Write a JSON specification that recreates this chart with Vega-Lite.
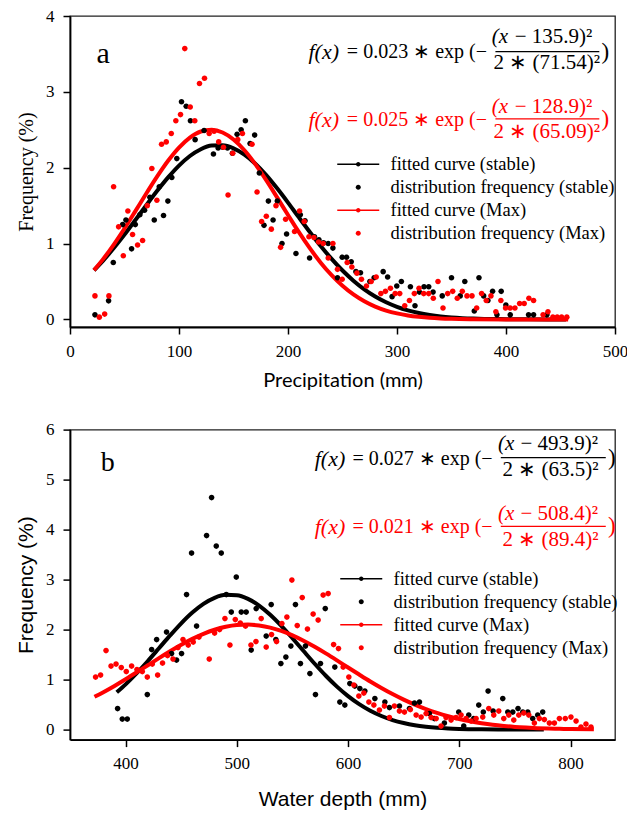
{
  "$schema": "https://vega.github.io/schema/vega-lite/v6.json",
  "padding": {"left": 14, "top": 6, "right": 0, "bottom": 0},
  "background": "white",
  "datasets": {
    "topfit": [
      {"x":22,"y":0.648,"s":"fitted curve (stable)"},{"x":30,"y":0.769,"s":"fitted curve (stable)"},{"x":40,"y":0.937,"s":"fitted curve (stable)"},{"x":50,"y":1.118,"s":"fitted curve (stable)"},{"x":60,"y":1.31,"s":"fitted curve (stable)"},{"x":70,"y":1.505,"s":"fitted curve (stable)"},{"x":80,"y":1.695,"s":"fitted curve (stable)"},{"x":90,"y":1.872,"s":"fitted curve (stable)"},{"x":100,"y":2.028,"s":"fitted curve (stable)"},{"x":110,"y":2.154,"s":"fitted curve (stable)"},{"x":120,"y":2.244,"s":"fitted curve (stable)"},{"x":130,"y":2.292,"s":"fitted curve (stable)"},{"x":140,"y":2.296,"s":"fitted curve (stable)"},{"x":150,"y":2.256,"s":"fitted curve (stable)"},{"x":160,"y":2.173,"s":"fitted curve (stable)"},{"x":170,"y":2.053,"s":"fitted curve (stable)"},{"x":180,"y":1.902,"s":"fitted curve (stable)"},{"x":190,"y":1.728,"s":"fitted curve (stable)"},{"x":200,"y":1.54,"s":"fitted curve (stable)"},{"x":210,"y":1.345,"s":"fitted curve (stable)"},{"x":220,"y":1.153,"s":"fitted curve (stable)"},{"x":230,"y":0.968,"s":"fitted curve (stable)"},{"x":240,"y":0.798,"s":"fitted curve (stable)"},{"x":250,"y":0.645,"s":"fitted curve (stable)"},{"x":260,"y":0.511,"s":"fitted curve (stable)"},{"x":270,"y":0.397,"s":"fitted curve (stable)"},{"x":280,"y":0.302,"s":"fitted curve (stable)"},{"x":290,"y":0.226,"s":"fitted curve (stable)"},{"x":300,"y":0.166,"s":"fitted curve (stable)"},{"x":310,"y":0.119,"s":"fitted curve (stable)"},{"x":320,"y":0.084,"s":"fitted curve (stable)"},{"x":330,"y":0.058,"s":"fitted curve (stable)"},{"x":340,"y":0.039,"s":"fitted curve (stable)"},{"x":350,"y":0.026,"s":"fitted curve (stable)"},{"x":360,"y":0.017,"s":"fitted curve (stable)"},{"x":370,"y":0.011,"s":"fitted curve (stable)"},{"x":380,"y":0.007,"s":"fitted curve (stable)"},{"x":400,"y":0.003,"s":"fitted curve (stable)"},{"x":420,"y":0.001,"s":"fitted curve (stable)"},{"x":455,"y":0.0,"s":"fitted curve (stable)"},
      {"x":22,"y":0.649,"s":"fitted curve (Max)"},{"x":30,"y":0.788,"s":"fitted curve (Max)"},{"x":40,"y":0.984,"s":"fitted curve (Max)"},{"x":50,"y":1.199,"s":"fitted curve (Max)"},{"x":60,"y":1.428,"s":"fitted curve (Max)"},{"x":70,"y":1.66,"s":"fitted curve (Max)"},{"x":80,"y":1.885,"s":"fitted curve (Max)"},{"x":90,"y":2.091,"s":"fitted curve (Max)"},{"x":100,"y":2.265,"s":"fitted curve (Max)"},{"x":110,"y":2.397,"s":"fitted curve (Max)"},{"x":120,"y":2.477,"s":"fitted curve (Max)"},{"x":130,"y":2.5,"s":"fitted curve (Max)"},{"x":140,"y":2.464,"s":"fitted curve (Max)"},{"x":150,"y":2.372,"s":"fitted curve (Max)"},{"x":160,"y":2.23,"s":"fitted curve (Max)"},{"x":170,"y":2.048,"s":"fitted curve (Max)"},{"x":180,"y":1.837,"s":"fitted curve (Max)"},{"x":190,"y":1.609,"s":"fitted curve (Max)"},{"x":200,"y":1.377,"s":"fitted curve (Max)"},{"x":210,"y":1.15,"s":"fitted curve (Max)"},{"x":220,"y":0.939,"s":"fitted curve (Max)"},{"x":230,"y":0.748,"s":"fitted curve (Max)"},{"x":240,"y":0.583,"s":"fitted curve (Max)"},{"x":250,"y":0.443,"s":"fitted curve (Max)"},{"x":260,"y":0.329,"s":"fitted curve (Max)"},{"x":270,"y":0.239,"s":"fitted curve (Max)"},{"x":280,"y":0.169,"s":"fitted curve (Max)"},{"x":290,"y":0.117,"s":"fitted curve (Max)"},{"x":300,"y":0.079,"s":"fitted curve (Max)"},{"x":310,"y":0.052,"s":"fitted curve (Max)"},{"x":320,"y":0.034,"s":"fitted curve (Max)"},{"x":330,"y":0.021,"s":"fitted curve (Max)"},{"x":340,"y":0.013,"s":"fitted curve (Max)"},{"x":350,"y":0.008,"s":"fitted curve (Max)"},{"x":370,"y":0.003,"s":"fitted curve (Max)"},{"x":400,"y":0.0,"s":"fitted curve (Max)"},{"x":457,"y":0.0,"s":"fitted curve (Max)"}
    ],
    "toppts": [
      {"x":22.9,"y":0.06,"s":"distribution frequency (stable)"},{"x":35.4,"y":0.245,"s":"distribution frequency (stable)"},{"x":39.7,"y":0.75,"s":"distribution frequency (stable)"},{"x":48.3,"y":1.25,"s":"distribution frequency (stable)"},{"x":51.3,"y":1.31,"s":"distribution frequency (stable)"},{"x":56.5,"y":0.93,"s":"distribution frequency (stable)"},{"x":59.9,"y":1.25,"s":"distribution frequency (stable)"},{"x":64.1,"y":1.38,"s":"distribution frequency (stable)"},{"x":68.4,"y":1.44,"s":"distribution frequency (stable)"},{"x":73.3,"y":1.61,"s":"distribution frequency (stable)"},{"x":77.3,"y":1.31,"s":"distribution frequency (stable)"},{"x":81.9,"y":1.75,"s":"distribution frequency (stable)"},{"x":85.8,"y":1.37,"s":"distribution frequency (stable)"},{"x":89.8,"y":1.56,"s":"distribution frequency (stable)"},{"x":93.4,"y":1.87,"s":"distribution frequency (stable)"},{"x":98,"y":2.12,"s":"distribution frequency (stable)"},{"x":102.3,"y":2.87,"s":"distribution frequency (stable)"},{"x":106.6,"y":2.81,"s":"distribution frequency (stable)"},{"x":110.5,"y":2.62,"s":"distribution frequency (stable)"},{"x":114.8,"y":2.37,"s":"distribution frequency (stable)"},{"x":123,"y":2.49,"s":"distribution frequency (stable)"},{"x":131.6,"y":2.18,"s":"distribution frequency (stable)"},{"x":135.9,"y":2.26,"s":"distribution frequency (stable)"},{"x":140.1,"y":2.27,"s":"distribution frequency (stable)"},{"x":144.5,"y":2.26,"s":"distribution frequency (stable)"},{"x":149,"y":2.19,"s":"distribution frequency (stable)"},{"x":153.3,"y":2.44,"s":"distribution frequency (stable)"},{"x":157,"y":2.5,"s":"distribution frequency (stable)"},{"x":160.9,"y":2.62,"s":"distribution frequency (stable)"},{"x":165.2,"y":2.32,"s":"distribution frequency (stable)"},{"x":169.4,"y":2.43,"s":"distribution frequency (stable)"},{"x":173.7,"y":1.93,"s":"distribution frequency (stable)"},{"x":178,"y":1.24,"s":"distribution frequency (stable)"},{"x":182,"y":1.56,"s":"distribution frequency (stable)"},{"x":186.3,"y":1.31,"s":"distribution frequency (stable)"},{"x":190.2,"y":1.56,"s":"distribution frequency (stable)"},{"x":194.5,"y":1.0,"s":"distribution frequency (stable)"},{"x":198.7,"y":1.125,"s":"distribution frequency (stable)"},{"x":207.3,"y":0.87,"s":"distribution frequency (stable)"},{"x":211.3,"y":1.38,"s":"distribution frequency (stable)"},{"x":215.6,"y":1.3,"s":"distribution frequency (stable)"},{"x":219.8,"y":0.81,"s":"distribution frequency (stable)"},{"x":224.3,"y":1.09,"s":"distribution frequency (stable)"},{"x":228.4,"y":1.05,"s":"distribution frequency (stable)"},{"x":232.6,"y":1.01,"s":"distribution frequency (stable)"},{"x":236.9,"y":1.0,"s":"distribution frequency (stable)"},{"x":241.2,"y":0.94,"s":"distribution frequency (stable)"},{"x":245.4,"y":0.55,"s":"distribution frequency (stable)"},{"x":249.7,"y":0.82,"s":"distribution frequency (stable)"},{"x":253.7,"y":0.82,"s":"distribution frequency (stable)"},{"x":258,"y":0.76,"s":"distribution frequency (stable)"},{"x":262.3,"y":0.63,"s":"distribution frequency (stable)"},{"x":266.5,"y":0.615,"s":"distribution frequency (stable)"},{"x":275.1,"y":0.5,"s":"distribution frequency (stable)"},{"x":279,"y":0.55,"s":"distribution frequency (stable)"},{"x":287.3,"y":0.63,"s":"distribution frequency (stable)"},{"x":291.4,"y":0.56,"s":"distribution frequency (stable)"},{"x":295.5,"y":0.3,"s":"distribution frequency (stable)"},{"x":299.8,"y":0.44,"s":"distribution frequency (stable)"},{"x":304,"y":0.5,"s":"distribution frequency (stable)"},{"x":312.3,"y":0.43,"s":"distribution frequency (stable)"},{"x":316.5,"y":0.18,"s":"distribution frequency (stable)"},{"x":320.5,"y":0.36,"s":"distribution frequency (stable)"},{"x":324.8,"y":0.43,"s":"distribution frequency (stable)"},{"x":329.1,"y":0.43,"s":"distribution frequency (stable)"},{"x":333.1,"y":0.36,"s":"distribution frequency (stable)"},{"x":341.5,"y":0.31,"s":"distribution frequency (stable)"},{"x":350,"y":0.55,"s":"distribution frequency (stable)"},{"x":358,"y":0.31,"s":"distribution frequency (stable)"},{"x":362.2,"y":0.5,"s":"distribution frequency (stable)"},{"x":370.9,"y":0.11,"s":"distribution frequency (stable)"},{"x":375.2,"y":0.55,"s":"distribution frequency (stable)"},{"x":379.5,"y":0.31,"s":"distribution frequency (stable)"},{"x":383.4,"y":0.25,"s":"distribution frequency (stable)"},{"x":387.7,"y":0.37,"s":"distribution frequency (stable)"},{"x":391.7,"y":0.06,"s":"distribution frequency (stable)"},{"x":395.6,"y":0.37,"s":"distribution frequency (stable)"},{"x":399.9,"y":0.19,"s":"distribution frequency (stable)"},{"x":403.9,"y":0.06,"s":"distribution frequency (stable)"},{"x":420.7,"y":0.06,"s":"distribution frequency (stable)"},{"x":425.3,"y":0.06,"s":"distribution frequency (stable)"},{"x":437.5,"y":0.06,"s":"distribution frequency (stable)"},
      {"x":22.9,"y":0.31,"s":"distribution frequency (Max)"},{"x":26.9,"y":0.03,"s":"distribution frequency (Max)"},{"x":31.8,"y":0.07,"s":"distribution frequency (Max)"},{"x":35.7,"y":0.31,"s":"distribution frequency (Max)"},{"x":40,"y":1.75,"s":"distribution frequency (Max)"},{"x":44.6,"y":1.22,"s":"distribution frequency (Max)"},{"x":48.9,"y":0.84,"s":"distribution frequency (Max)"},{"x":53.1,"y":1.43,"s":"distribution frequency (Max)"},{"x":57.4,"y":1.12,"s":"distribution frequency (Max)"},{"x":62,"y":0.98,"s":"distribution frequency (Max)"},{"x":66.6,"y":1.04,"s":"distribution frequency (Max)"},{"x":70.9,"y":1.5,"s":"distribution frequency (Max)"},{"x":75.1,"y":1.99,"s":"distribution frequency (Max)"},{"x":79.7,"y":1.57,"s":"distribution frequency (Max)"},{"x":84,"y":2.31,"s":"distribution frequency (Max)"},{"x":88.3,"y":2.34,"s":"distribution frequency (Max)"},{"x":92.9,"y":2.45,"s":"distribution frequency (Max)"},{"x":97.1,"y":2.62,"s":"distribution frequency (Max)"},{"x":101.4,"y":2.7,"s":"distribution frequency (Max)"},{"x":105.3,"y":3.57,"s":"distribution frequency (Max)"},{"x":110.3,"y":2.8,"s":"distribution frequency (Max)"},{"x":114.5,"y":2.62,"s":"distribution frequency (Max)"},{"x":118.8,"y":3.11,"s":"distribution frequency (Max)"},{"x":123.4,"y":3.18,"s":"distribution frequency (Max)"},{"x":127.7,"y":2.45,"s":"distribution frequency (Max)"},{"x":132.2,"y":2.48,"s":"distribution frequency (Max)"},{"x":136.4,"y":2.34,"s":"distribution frequency (Max)"},{"x":140.8,"y":2.27,"s":"distribution frequency (Max)"},{"x":145,"y":1.64,"s":"distribution frequency (Max)"},{"x":149.3,"y":2.19,"s":"distribution frequency (Max)"},{"x":153.9,"y":2.37,"s":"distribution frequency (Max)"},{"x":158.2,"y":2.45,"s":"distribution frequency (Max)"},{"x":167,"y":2.31,"s":"distribution frequency (Max)"},{"x":171.6,"y":1.68,"s":"distribution frequency (Max)"},{"x":175.8,"y":1.29,"s":"distribution frequency (Max)"},{"x":180.1,"y":1.36,"s":"distribution frequency (Max)"},{"x":184.7,"y":1.19,"s":"distribution frequency (Max)"},{"x":189,"y":1.5,"s":"distribution frequency (Max)"},{"x":193.2,"y":0.95,"s":"distribution frequency (Max)"},{"x":197.8,"y":1.32,"s":"distribution frequency (Max)"},{"x":206,"y":1.16,"s":"distribution frequency (Max)"},{"x":210.6,"y":1.43,"s":"distribution frequency (Max)"},{"x":214.9,"y":1.29,"s":"distribution frequency (Max)"},{"x":219.2,"y":1.09,"s":"distribution frequency (Max)"},{"x":223.8,"y":1.08,"s":"distribution frequency (Max)"},{"x":228,"y":1.02,"s":"distribution frequency (Max)"},{"x":232.3,"y":1.0,"s":"distribution frequency (Max)"},{"x":236.9,"y":0.81,"s":"distribution frequency (Max)"},{"x":241.2,"y":1.0,"s":"distribution frequency (Max)"},{"x":245.4,"y":0.66,"s":"distribution frequency (Max)"},{"x":249.7,"y":0.53,"s":"distribution frequency (Max)"},{"x":254.3,"y":0.75,"s":"distribution frequency (Max)"},{"x":258.6,"y":0.69,"s":"distribution frequency (Max)"},{"x":263.2,"y":0.61,"s":"distribution frequency (Max)"},{"x":267.4,"y":0.53,"s":"distribution frequency (Max)"},{"x":272,"y":0.44,"s":"distribution frequency (Max)"},{"x":276.3,"y":0.5,"s":"distribution frequency (Max)"},{"x":280.9,"y":0.56,"s":"distribution frequency (Max)"},{"x":285.2,"y":0.34,"s":"distribution frequency (Max)"},{"x":289.4,"y":0.37,"s":"distribution frequency (Max)"},{"x":294,"y":0.41,"s":"distribution frequency (Max)"},{"x":298.3,"y":0.34,"s":"distribution frequency (Max)"},{"x":302.5,"y":0.34,"s":"distribution frequency (Max)"},{"x":307.1,"y":0.18,"s":"distribution frequency (Max)"},{"x":311.4,"y":0.25,"s":"distribution frequency (Max)"},{"x":315.9,"y":0.34,"s":"distribution frequency (Max)"},{"x":320.2,"y":0.41,"s":"distribution frequency (Max)"},{"x":324.5,"y":0.34,"s":"distribution frequency (Max)"},{"x":329.1,"y":0.34,"s":"distribution frequency (Max)"},{"x":333.3,"y":0.28,"s":"distribution frequency (Max)"},{"x":337.6,"y":0.5,"s":"distribution frequency (Max)"},{"x":342.2,"y":0.15,"s":"distribution frequency (Max)"},{"x":346.5,"y":0.34,"s":"distribution frequency (Max)"},{"x":351.1,"y":0.37,"s":"distribution frequency (Max)"},{"x":355.3,"y":0.28,"s":"distribution frequency (Max)"},{"x":359.9,"y":0.37,"s":"distribution frequency (Max)"},{"x":364.2,"y":0.31,"s":"distribution frequency (Max)"},{"x":368.8,"y":0.31,"s":"distribution frequency (Max)"},{"x":373.1,"y":0.15,"s":"distribution frequency (Max)"},{"x":377.6,"y":0.34,"s":"distribution frequency (Max)"},{"x":381.9,"y":0.25,"s":"distribution frequency (Max)"},{"x":386.2,"y":0.31,"s":"distribution frequency (Max)"},{"x":390.7,"y":0.1,"s":"distribution frequency (Max)"},{"x":395.3,"y":0.25,"s":"distribution frequency (Max)"},{"x":399.6,"y":0.15,"s":"distribution frequency (Max)"},{"x":403.9,"y":0.15,"s":"distribution frequency (Max)"},{"x":408.2,"y":0.15,"s":"distribution frequency (Max)"},{"x":412.5,"y":0.21,"s":"distribution frequency (Max)"},{"x":416.7,"y":0.21,"s":"distribution frequency (Max)"},{"x":421,"y":0.28,"s":"distribution frequency (Max)"},{"x":425.3,"y":0.25,"s":"distribution frequency (Max)"},{"x":434,"y":0.06,"s":"distribution frequency (Max)"},{"x":438.5,"y":0.1,"s":"distribution frequency (Max)"},{"x":443,"y":0.03,"s":"distribution frequency (Max)"},{"x":447,"y":0.03,"s":"distribution frequency (Max)"},{"x":451,"y":0.03,"s":"distribution frequency (Max)"},{"x":455.8,"y":0.03,"s":"distribution frequency (Max)"}
    ],
    "botfit": [
      {"x":392,"y":0.745,"s":"fitted curve (stable)"},{"x":400,"y":0.905,"s":"fitted curve (stable)"},{"x":410,"y":1.128,"s":"fitted curve (stable)"},{"x":420,"y":1.372,"s":"fitted curve (stable)"},{"x":430,"y":1.627,"s":"fitted curve (stable)"},{"x":440,"y":1.883,"s":"fitted curve (stable)"},{"x":450,"y":2.126,"s":"fitted curve (stable)"},{"x":460,"y":2.341,"s":"fitted curve (stable)"},{"x":470,"y":2.515,"s":"fitted curve (stable)"},{"x":480,"y":2.636,"s":"fitted curve (stable)"},{"x":490,"y":2.695,"s":"fitted curve (stable)"},{"x":500,"y":2.688,"s":"fitted curve (stable)"},{"x":510,"y":2.615,"s":"fitted curve (stable)"},{"x":520,"y":2.481,"s":"fitted curve (stable)"},{"x":530,"y":2.297,"s":"fitted curve (stable)"},{"x":540,"y":2.075,"s":"fitted curve (stable)"},{"x":550,"y":1.828,"s":"fitted curve (stable)"},{"x":560,"y":1.571,"s":"fitted curve (stable)"},{"x":570,"y":1.317,"s":"fitted curve (stable)"},{"x":580,"y":1.077,"s":"fitted curve (stable)"},{"x":590,"y":0.859,"s":"fitted curve (stable)"},{"x":600,"y":0.669,"s":"fitted curve (stable)"},{"x":610,"y":0.508,"s":"fitted curve (stable)"},{"x":620,"y":0.376,"s":"fitted curve (stable)"},{"x":630,"y":0.272,"s":"fitted curve (stable)"},{"x":640,"y":0.191,"s":"fitted curve (stable)"},{"x":650,"y":0.132,"s":"fitted curve (stable)"},{"x":660,"y":0.088,"s":"fitted curve (stable)"},{"x":670,"y":0.058,"s":"fitted curve (stable)"},{"x":680,"y":0.037,"s":"fitted curve (stable)"},{"x":690,"y":0.023,"s":"fitted curve (stable)"},{"x":700,"y":0.014,"s":"fitted curve (stable)"},{"x":720,"y":0.005,"s":"fitted curve (stable)"},{"x":740,"y":0.002,"s":"fitted curve (stable)"},{"x":776,"y":0.0,"s":"fitted curve (stable)"},
      {"x":372,"y":0.656,"s":"fitted curve (Max)"},{"x":380,"y":0.749,"s":"fitted curve (Max)"},{"x":390,"y":0.874,"s":"fitted curve (Max)"},{"x":400,"y":1.007,"s":"fitted curve (Max)"},{"x":410,"y":1.146,"s":"fitted curve (Max)"},{"x":420,"y":1.288,"s":"fitted curve (Max)"},{"x":430,"y":1.43,"s":"fitted curve (Max)"},{"x":440,"y":1.567,"s":"fitted curve (Max)"},{"x":450,"y":1.696,"s":"fitted curve (Max)"},{"x":460,"y":1.814,"s":"fitted curve (Max)"},{"x":470,"y":1.915,"s":"fitted curve (Max)"},{"x":480,"y":1.997,"s":"fitted curve (Max)"},{"x":490,"y":2.056,"s":"fitted curve (Max)"},{"x":500,"y":2.091,"s":"fitted curve (Max)"},{"x":510,"y":2.1,"s":"fitted curve (Max)"},{"x":520,"y":2.082,"s":"fitted curve (Max)"},{"x":530,"y":2.04,"s":"fitted curve (Max)"},{"x":540,"y":1.973,"s":"fitted curve (Max)"},{"x":550,"y":1.885,"s":"fitted curve (Max)"},{"x":560,"y":1.778,"s":"fitted curve (Max)"},{"x":570,"y":1.656,"s":"fitted curve (Max)"},{"x":580,"y":1.524,"s":"fitted curve (Max)"},{"x":590,"y":1.385,"s":"fitted curve (Max)"},{"x":600,"y":1.242,"s":"fitted curve (Max)"},{"x":610,"y":1.101,"s":"fitted curve (Max)"},{"x":620,"y":0.963,"s":"fitted curve (Max)"},{"x":630,"y":0.833,"s":"fitted curve (Max)"},{"x":640,"y":0.711,"s":"fitted curve (Max)"},{"x":650,"y":0.599,"s":"fitted curve (Max)"},{"x":660,"y":0.499,"s":"fitted curve (Max)"},{"x":670,"y":0.41,"s":"fitted curve (Max)"},{"x":680,"y":0.333,"s":"fitted curve (Max)"},{"x":690,"y":0.267,"s":"fitted curve (Max)"},{"x":700,"y":0.211,"s":"fitted curve (Max)"},{"x":710,"y":0.165,"s":"fitted curve (Max)"},{"x":720,"y":0.128,"s":"fitted curve (Max)"},{"x":730,"y":0.097,"s":"fitted curve (Max)"},{"x":740,"y":0.073,"s":"fitted curve (Max)"},{"x":750,"y":0.054,"s":"fitted curve (Max)"},{"x":760,"y":0.04,"s":"fitted curve (Max)"},{"x":770,"y":0.029,"s":"fitted curve (Max)"},{"x":780,"y":0.021,"s":"fitted curve (Max)"},{"x":790,"y":0.015,"s":"fitted curve (Max)"},{"x":800,"y":0.01,"s":"fitted curve (Max)"},{"x":821,"y":0.005,"s":"fitted curve (Max)"}
    ],
    "botpts": [
      {"x":392.8,"y":0.42,"s":"distribution frequency (stable)"},{"x":397,"y":0.21,"s":"distribution frequency (stable)"},{"x":401.5,"y":0.21,"s":"distribution frequency (stable)"},{"x":419.5,"y":0.7,"s":"distribution frequency (stable)"},{"x":423.4,"y":1.6,"s":"distribution frequency (stable)"},{"x":427.9,"y":1.8,"s":"distribution frequency (stable)"},{"x":436.8,"y":1.95,"s":"distribution frequency (stable)"},{"x":441.3,"y":1.52,"s":"distribution frequency (stable)"},{"x":445.8,"y":1.39,"s":"distribution frequency (stable)"},{"x":450.3,"y":1.52,"s":"distribution frequency (stable)"},{"x":454.8,"y":2.7,"s":"distribution frequency (stable)"},{"x":459.3,"y":3.53,"s":"distribution frequency (stable)"},{"x":463.8,"y":2.07,"s":"distribution frequency (stable)"},{"x":472.8,"y":3.88,"s":"distribution frequency (stable)"},{"x":477.3,"y":4.64,"s":"distribution frequency (stable)"},{"x":481.5,"y":3.67,"s":"distribution frequency (stable)"},{"x":486,"y":3.53,"s":"distribution frequency (stable)"},{"x":490.5,"y":2.7,"s":"distribution frequency (stable)"},{"x":495,"y":2.35,"s":"distribution frequency (stable)"},{"x":499.5,"y":3.05,"s":"distribution frequency (stable)"},{"x":504,"y":2.35,"s":"distribution frequency (stable)"},{"x":508.4,"y":2.35,"s":"distribution frequency (stable)"},{"x":512.9,"y":1.59,"s":"distribution frequency (stable)"},{"x":517.4,"y":2.42,"s":"distribution frequency (stable)"},{"x":526.4,"y":1.87,"s":"distribution frequency (stable)"},{"x":530.9,"y":2.5,"s":"distribution frequency (stable)"},{"x":535.1,"y":1.8,"s":"distribution frequency (stable)"},{"x":539.6,"y":1.32,"s":"distribution frequency (stable)"},{"x":544.1,"y":1.45,"s":"distribution frequency (stable)"},{"x":548.6,"y":1.67,"s":"distribution frequency (stable)"},{"x":552.7,"y":2.5,"s":"distribution frequency (stable)"},{"x":557.2,"y":1.32,"s":"distribution frequency (stable)"},{"x":561.7,"y":1.67,"s":"distribution frequency (stable)"},{"x":565.7,"y":1.12,"s":"distribution frequency (stable)"},{"x":570.7,"y":0.7,"s":"distribution frequency (stable)"},{"x":575.2,"y":1.32,"s":"distribution frequency (stable)"},{"x":579.5,"y":2.42,"s":"distribution frequency (stable)"},{"x":588.1,"y":1.25,"s":"distribution frequency (stable)"},{"x":592.6,"y":0.55,"s":"distribution frequency (stable)"},{"x":597.1,"y":0.49,"s":"distribution frequency (stable)"},{"x":601.6,"y":0.92,"s":"distribution frequency (stable)"},{"x":606.1,"y":0.87,"s":"distribution frequency (stable)"},{"x":610.6,"y":0.82,"s":"distribution frequency (stable)"},{"x":615.1,"y":0.77,"s":"distribution frequency (stable)"},{"x":624.1,"y":0.62,"s":"distribution frequency (stable)"},{"x":633.1,"y":0.55,"s":"distribution frequency (stable)"},{"x":637.2,"y":0.44,"s":"distribution frequency (stable)"},{"x":646.2,"y":0.47,"s":"distribution frequency (stable)"},{"x":655.2,"y":0.42,"s":"distribution frequency (stable)"},{"x":659.7,"y":0.53,"s":"distribution frequency (stable)"},{"x":664.2,"y":0.55,"s":"distribution frequency (stable)"},{"x":673.1,"y":0.32,"s":"distribution frequency (stable)"},{"x":677.6,"y":0.22,"s":"distribution frequency (stable)"},{"x":686.6,"y":0.13,"s":"distribution frequency (stable)"},{"x":699.5,"y":0.35,"s":"distribution frequency (stable)"},{"x":704,"y":0.07,"s":"distribution frequency (stable)"},{"x":708.5,"y":0.29,"s":"distribution frequency (stable)"},{"x":713,"y":0.22,"s":"distribution frequency (stable)"},{"x":717.5,"y":0.49,"s":"distribution frequency (stable)"},{"x":721.6,"y":0.35,"s":"distribution frequency (stable)"},{"x":725.9,"y":0.77,"s":"distribution frequency (stable)"},{"x":730.4,"y":0.37,"s":"distribution frequency (stable)"},{"x":739.1,"y":0.62,"s":"distribution frequency (stable)"},{"x":743.6,"y":0.35,"s":"distribution frequency (stable)"},{"x":748.1,"y":0.35,"s":"distribution frequency (stable)"},{"x":752.8,"y":0.42,"s":"distribution frequency (stable)"},{"x":757.1,"y":0.35,"s":"distribution frequency (stable)"},{"x":761.6,"y":0.35,"s":"distribution frequency (stable)"},{"x":766,"y":0.22,"s":"distribution frequency (stable)"},{"x":770.5,"y":0.29,"s":"distribution frequency (stable)"},{"x":775,"y":0.35,"s":"distribution frequency (stable)"},
      {"x":373,"y":1.05,"s":"distribution frequency (Max)"},{"x":377.5,"y":1.09,"s":"distribution frequency (Max)"},{"x":382.4,"y":1.58,"s":"distribution frequency (Max)"},{"x":386.9,"y":1.27,"s":"distribution frequency (Max)"},{"x":391.4,"y":1.31,"s":"distribution frequency (Max)"},{"x":396.1,"y":1.24,"s":"distribution frequency (Max)"},{"x":400.6,"y":1.16,"s":"distribution frequency (Max)"},{"x":405.4,"y":1.27,"s":"distribution frequency (Max)"},{"x":410.2,"y":1.2,"s":"distribution frequency (Max)"},{"x":415,"y":1.16,"s":"distribution frequency (Max)"},{"x":419.5,"y":1.05,"s":"distribution frequency (Max)"},{"x":424,"y":1.31,"s":"distribution frequency (Max)"},{"x":428.8,"y":1.09,"s":"distribution frequency (Max)"},{"x":433.2,"y":1.33,"s":"distribution frequency (Max)"},{"x":437.7,"y":1.48,"s":"distribution frequency (Max)"},{"x":442.6,"y":1.41,"s":"distribution frequency (Max)"},{"x":447.1,"y":1.64,"s":"distribution frequency (Max)"},{"x":451.6,"y":1.8,"s":"distribution frequency (Max)"},{"x":456.3,"y":1.69,"s":"distribution frequency (Max)"},{"x":460.8,"y":1.75,"s":"distribution frequency (Max)"},{"x":466,"y":1.85,"s":"distribution frequency (Max)"},{"x":475.2,"y":1.41,"s":"distribution frequency (Max)"},{"x":480,"y":1.93,"s":"distribution frequency (Max)"},{"x":484.5,"y":2.0,"s":"distribution frequency (Max)"},{"x":489.3,"y":2.22,"s":"distribution frequency (Max)"},{"x":493.8,"y":1.69,"s":"distribution frequency (Max)"},{"x":498.6,"y":2.2,"s":"distribution frequency (Max)"},{"x":503.1,"y":2.13,"s":"distribution frequency (Max)"},{"x":507.8,"y":2.07,"s":"distribution frequency (Max)"},{"x":512.7,"y":1.69,"s":"distribution frequency (Max)"},{"x":517.2,"y":1.76,"s":"distribution frequency (Max)"},{"x":521.9,"y":2.22,"s":"distribution frequency (Max)"},{"x":526.4,"y":1.65,"s":"distribution frequency (Max)"},{"x":531.2,"y":1.9,"s":"distribution frequency (Max)"},{"x":535.7,"y":1.76,"s":"distribution frequency (Max)"},{"x":540.5,"y":2.12,"s":"distribution frequency (Max)"},{"x":545,"y":2.25,"s":"distribution frequency (Max)"},{"x":549.5,"y":2.99,"s":"distribution frequency (Max)"},{"x":554.3,"y":2.08,"s":"distribution frequency (Max)"},{"x":558.8,"y":2.64,"s":"distribution frequency (Max)"},{"x":563.5,"y":2.01,"s":"distribution frequency (Max)"},{"x":568.6,"y":2.31,"s":"distribution frequency (Max)"},{"x":573.1,"y":2.19,"s":"distribution frequency (Max)"},{"x":577.6,"y":2.69,"s":"distribution frequency (Max)"},{"x":582.1,"y":2.72,"s":"distribution frequency (Max)"},{"x":587,"y":1.7,"s":"distribution frequency (Max)"},{"x":591.4,"y":1.62,"s":"distribution frequency (Max)"},{"x":595.6,"y":1.25,"s":"distribution frequency (Max)"},{"x":600.7,"y":1.05,"s":"distribution frequency (Max)"},{"x":605.2,"y":0.89,"s":"distribution frequency (Max)"},{"x":609.7,"y":0.67,"s":"distribution frequency (Max)"},{"x":614.2,"y":0.73,"s":"distribution frequency (Max)"},{"x":618.7,"y":0.55,"s":"distribution frequency (Max)"},{"x":623.2,"y":0.49,"s":"distribution frequency (Max)"},{"x":628.2,"y":0.39,"s":"distribution frequency (Max)"},{"x":632.7,"y":0.47,"s":"distribution frequency (Max)"},{"x":637.2,"y":0.24,"s":"distribution frequency (Max)"},{"x":641.7,"y":0.47,"s":"distribution frequency (Max)"},{"x":646.2,"y":0.37,"s":"distribution frequency (Max)"},{"x":650.7,"y":0.35,"s":"distribution frequency (Max)"},{"x":656,"y":0.4,"s":"distribution frequency (Max)"},{"x":661.2,"y":0.29,"s":"distribution frequency (Max)"},{"x":665.7,"y":0.25,"s":"distribution frequency (Max)"},{"x":670.2,"y":0.32,"s":"distribution frequency (Max)"},{"x":674.7,"y":0.24,"s":"distribution frequency (Max)"},{"x":679.2,"y":0.22,"s":"distribution frequency (Max)"},{"x":683.6,"y":0.07,"s":"distribution frequency (Max)"},{"x":688.1,"y":0.24,"s":"distribution frequency (Max)"},{"x":692.6,"y":0.19,"s":"distribution frequency (Max)"},{"x":697.1,"y":0.24,"s":"distribution frequency (Max)"},{"x":701.6,"y":0.29,"s":"distribution frequency (Max)"},{"x":706.1,"y":0.22,"s":"distribution frequency (Max)"},{"x":710.6,"y":0.17,"s":"distribution frequency (Max)"},{"x":715.1,"y":0.22,"s":"distribution frequency (Max)"},{"x":721.1,"y":0.25,"s":"distribution frequency (Max)"},{"x":726.5,"y":0.42,"s":"distribution frequency (Max)"},{"x":731,"y":0.29,"s":"distribution frequency (Max)"},{"x":735.5,"y":0.37,"s":"distribution frequency (Max)"},{"x":740,"y":0.22,"s":"distribution frequency (Max)"},{"x":744.5,"y":0.29,"s":"distribution frequency (Max)"},{"x":749,"y":0.19,"s":"distribution frequency (Max)"},{"x":753.5,"y":0.29,"s":"distribution frequency (Max)"},{"x":758,"y":0.33,"s":"distribution frequency (Max)"},{"x":762.5,"y":0.29,"s":"distribution frequency (Max)"},{"x":767.5,"y":0.13,"s":"distribution frequency (Max)"},{"x":772,"y":0.22,"s":"distribution frequency (Max)"},{"x":776.5,"y":0.2,"s":"distribution frequency (Max)"},{"x":781,"y":0.13,"s":"distribution frequency (Max)"},{"x":785.5,"y":0.13,"s":"distribution frequency (Max)"},{"x":790,"y":0.22,"s":"distribution frequency (Max)"},{"x":795.3,"y":0.22,"s":"distribution frequency (Max)"},{"x":800.4,"y":0.25,"s":"distribution frequency (Max)"},{"x":805,"y":0.17,"s":"distribution frequency (Max)"},{"x":809.4,"y":0.05,"s":"distribution frequency (Max)"},{"x":813.9,"y":0.11,"s":"distribution frequency (Max)"},{"x":818.4,"y":0.05,"s":"distribution frequency (Max)"}
    ]
  },
  "vconcat": [
    {
      "width": 545,
      "height": 311,
      "layer": [
        {
          "data": {"name": "topfit"},
          "mark": {"type": "line", "strokeWidth": 4, "interpolate": "monotone"},
          "encoding": {
            "x": {"field": "x", "type": "quantitative", "scale": {"domain": [0, 500], "nice": false, "zero": false}, "axis": {"title": "Precipitation (mm)", "values": [0, 100, 200, 300, 400, 500], "format": "d", "labelFont": "Liberation Serif", "titleFont": "Lato", "titleFontSize": 20, "titlePadding": 11}},
            "y": {"field": "y", "type": "quantitative", "scale": {"domain": [-0.1, 4], "nice": false, "zero": false}, "axis": {"title": "Frequency (%)", "values": [0, 1, 2, 3, 4], "format": "d", "labelFont": "Liberation Serif", "titleFont": "Liberation Serif", "titleFontSize": 20, "titlePadding": 9}},
            "color": {"field": "s", "type": "nominal", "scale": {"domain": ["fitted curve (stable)", "distribution frequency (stable)", "fitted curve (Max)", "distribution frequency (Max)"], "range": ["#000000", "#000000", "#ff0000", "#ff0000"]}, "legend": {"title": null, "orient": "none", "legendX": 279, "legendY": 139, "symbolSize": 100, "labelFont": "Liberation Serif", "labelFontSize": 18.5, "labelColor": "black", "labelOffset": 23, "rowPadding": 4, "symbolStrokeWidth": 0, "padding": 0, "labelLimit": 400}}
          }
        },
        {
          "data": {"name": "toppts"},
          "mark": {"type": "point", "filled": true, "size": 125, "opacity": 1},
          "encoding": {
            "x": {"field": "x", "type": "quantitative"},
            "y": {"field": "y", "type": "quantitative"},
            "color": {"field": "s", "type": "nominal", "legend": {"title": null, "orient": "none", "legendX": 279, "legendY": 139, "symbolSize": 100, "labelFont": "Liberation Serif", "labelFontSize": 18.5, "labelColor": "black", "labelOffset": 23, "rowPadding": 4, "symbolStrokeWidth": 0, "padding": 0, "labelLimit": 400}},
            "shape": {"field": "s", "type": "nominal", "scale": {"domain": ["fitted curve (stable)", "distribution frequency (stable)", "fitted curve (Max)", "distribution frequency (Max)"], "range": ["M-4.2,-0.15H4.2V0.15H-4.2Z M-0.45,0A0.45,0.45,0,1,1,0.45,0A0.45,0.45,0,1,1,-0.45,0Z", "M-0.5,0A0.5,0.5,0,1,1,0.5,0A0.5,0.5,0,1,1,-0.5,0Z", "M-4.2,-0.15H4.2V0.15H-4.2Z M-0.45,0A0.45,0.45,0,1,1,0.45,0A0.45,0.45,0,1,1,-0.45,0Z", "M-0.5,0A0.5,0.5,0,1,1,0.5,0A0.5,0.5,0,1,1,-0.5,0Z"]}, "legend": {"title": null, "orient": "none", "legendX": 279, "legendY": 139, "symbolSize": 100, "labelFont": "Liberation Serif", "labelFontSize": 18.5, "labelColor": "black", "labelOffset": 23, "rowPadding": 4, "symbolStrokeWidth": 0, "padding": 0, "labelLimit": 400}}
          }
        },
        {"data": {"values": [{}]}, "mark": {"type": "text", "text": "a", "font": "Liberation Serif", "fontSize": 30, "align": "center", "baseline": "middle", "color": "black"}, "encoding": {"x": {"datum": 30.4}, "y": {"datum": 3.5}}},
        {"data": {"values": [{}]}, "mark": {"type": "text", "text": "f(x)", "font": "Liberation Serif", "fontStyle": "italic", "fontSize": 22, "align": "left", "baseline": "middle", "color": "black"}, "encoding": {"x": {"datum": 218.8}, "y": {"datum": 3.526}}},
        {"data": {"values": [{}]}, "mark": {"type": "text", "text": "= 0.023 ∗ exp (−", "font": "Liberation Serif", "fontSize": 20, "align": "left", "baseline": "middle", "color": "black"}, "encoding": {"x": {"datum": 254}, "y": {"datum": 3.526}}},
        {"data": {"values": [{}]}, "mark": {"type": "text", "text": "(x", "font": "Liberation Serif", "fontStyle": "italic", "fontSize": 21, "align": "right", "baseline": "middle", "color": "black"}, "encoding": {"x": {"datum": 402}, "y": {"datum": 3.724}}},
        {"data": {"values": [{}]}, "mark": {"type": "text", "text": "− 135.9)²", "font": "Liberation Serif", "fontSize": 21, "align": "left", "baseline": "middle", "color": "black"}, "encoding": {"x": {"datum": 408}, "y": {"datum": 3.724}}},
        {"data": {"values": [{}]}, "mark": {"type": "rule", "color": "black", "strokeWidth": 1.2}, "encoding": {"x": {"datum": 390.3}, "x2": {"datum": 485.6}, "y": {"datum": 3.53}}},
        {"data": {"values": [{}]}, "mark": {"type": "text", "text": "2 ∗ (71.54)²", "font": "Liberation Serif", "fontSize": 21, "align": "center", "baseline": "middle", "color": "black"}, "encoding": {"x": {"datum": 437.5}, "y": {"datum": 3.381}}},
        {"data": {"values": [{}]}, "mark": {"type": "text", "text": ")", "font": "Liberation Serif", "fontSize": 23, "align": "left", "baseline": "middle", "color": "black"}, "encoding": {"x": {"datum": 487.5}, "y": {"datum": 3.53}}},
        {"data": {"values": [{}]}, "mark": {"type": "text", "text": "f(x)", "font": "Liberation Serif", "fontStyle": "italic", "fontSize": 22, "align": "left", "baseline": "middle", "color": "#ff0000"}, "encoding": {"x": {"datum": 218.8}, "y": {"datum": 2.629}}},
        {"data": {"values": [{}]}, "mark": {"type": "text", "text": "= 0.025 ∗ exp (−", "font": "Liberation Serif", "fontSize": 20, "align": "left", "baseline": "middle", "color": "#ff0000"}, "encoding": {"x": {"datum": 254}, "y": {"datum": 2.629}}},
        {"data": {"values": [{}]}, "mark": {"type": "text", "text": "(x", "font": "Liberation Serif", "fontStyle": "italic", "fontSize": 21, "align": "right", "baseline": "middle", "color": "#ff0000"}, "encoding": {"x": {"datum": 402}, "y": {"datum": 2.794}}},
        {"data": {"values": [{}]}, "mark": {"type": "text", "text": "− 128.9)²", "font": "Liberation Serif", "fontSize": 21, "align": "left", "baseline": "middle", "color": "#ff0000"}, "encoding": {"x": {"datum": 408}, "y": {"datum": 2.794}}},
        {"data": {"values": [{}]}, "mark": {"type": "rule", "color": "#ff0000", "strokeWidth": 1.2}, "encoding": {"x": {"datum": 390.3}, "x2": {"datum": 485.6}, "y": {"datum": 2.643}}},
        {"data": {"values": [{}]}, "mark": {"type": "text", "text": "2 ∗ (65.09)²", "font": "Liberation Serif", "fontSize": 21, "align": "center", "baseline": "middle", "color": "#ff0000"}, "encoding": {"x": {"datum": 437.5}, "y": {"datum": 2.475}}},
        {"data": {"values": [{}]}, "mark": {"type": "text", "text": ")", "font": "Liberation Serif", "fontSize": 23, "align": "left", "baseline": "middle", "color": "#ff0000"}, "encoding": {"x": {"datum": 487.5}, "y": {"datum": 2.643}}}
      ]
    },
    {
      "width": 545,
      "height": 310,
      "layer": [
        {
          "data": {"name": "botfit"},
          "mark": {"type": "line", "strokeWidth": 4, "interpolate": "monotone"},
          "encoding": {
            "x": {"field": "x", "type": "quantitative", "scale": {"domain": [350, 840], "nice": false, "zero": false}, "axis": {"title": "Water depth (mm)", "values": [400, 500, 600, 700, 800], "format": "d", "labelFont": "Liberation Serif", "titleFont": "Liberation Sans", "titleFontSize": 21, "titlePadding": 17}},
            "y": {"field": "y", "type": "quantitative", "scale": {"domain": [-0.2, 6], "nice": false, "zero": false}, "axis": {"title": "Frequency (%)", "values": [0, 1, 2, 3, 4, 5, 6], "format": "d", "labelFont": "Liberation Serif", "titleFont": "Liberation Sans", "titleFontSize": 21, "titlePadding": 9}},
            "color": {"field": "s", "type": "nominal", "scale": {"domain": ["fitted curve (stable)", "distribution frequency (stable)", "fitted curve (Max)", "distribution frequency (Max)"], "range": ["#000000", "#000000", "#ff0000", "#ff0000"]}, "legend": {"title": null, "orient": "none", "legendX": 282, "legendY": 140, "symbolSize": 100, "labelFont": "Liberation Serif", "labelFontSize": 18.5, "labelColor": "black", "labelOffset": 23, "rowPadding": 4, "symbolStrokeWidth": 0, "padding": 0, "labelLimit": 400}}
          }
        },
        {
          "data": {"name": "botpts"},
          "mark": {"type": "point", "filled": true, "size": 125, "opacity": 1},
          "encoding": {
            "x": {"field": "x", "type": "quantitative"},
            "y": {"field": "y", "type": "quantitative"},
            "color": {"field": "s", "type": "nominal", "legend": {"title": null, "orient": "none", "legendX": 282, "legendY": 140, "symbolSize": 100, "labelFont": "Liberation Serif", "labelFontSize": 18.5, "labelColor": "black", "labelOffset": 23, "rowPadding": 4, "symbolStrokeWidth": 0, "padding": 0, "labelLimit": 400}},
            "shape": {"field": "s", "type": "nominal", "scale": {"domain": ["fitted curve (stable)", "distribution frequency (stable)", "fitted curve (Max)", "distribution frequency (Max)"], "range": ["M-4.2,-0.15H4.2V0.15H-4.2Z M-0.45,0A0.45,0.45,0,1,1,0.45,0A0.45,0.45,0,1,1,-0.45,0Z", "M-0.5,0A0.5,0.5,0,1,1,0.5,0A0.5,0.5,0,1,1,-0.5,0Z", "M-4.2,-0.15H4.2V0.15H-4.2Z M-0.45,0A0.45,0.45,0,1,1,0.45,0A0.45,0.45,0,1,1,-0.45,0Z", "M-0.5,0A0.5,0.5,0,1,1,0.5,0A0.5,0.5,0,1,1,-0.5,0Z"]}, "legend": {"title": null, "orient": "none", "legendX": 282, "legendY": 140, "symbolSize": 100, "labelFont": "Liberation Serif", "labelFontSize": 18.5, "labelColor": "black", "labelOffset": 23, "rowPadding": 4, "symbolStrokeWidth": 0, "padding": 0, "labelLimit": 400}}
          }
        },
        {"data": {"values": [{}]}, "mark": {"type": "text", "text": "b", "font": "Liberation Serif", "fontSize": 28, "align": "center", "baseline": "middle", "color": "black"}, "encoding": {"x": {"datum": 383.9}, "y": {"datum": 5.34}}},
        {"data": {"values": [{}]}, "mark": {"type": "text", "text": "f(x)", "font": "Liberation Serif", "fontStyle": "italic", "fontSize": 22, "align": "left", "baseline": "middle", "color": "black"}, "encoding": {"x": {"datum": 570}, "y": {"datum": 5.42}}},
        {"data": {"values": [{}]}, "mark": {"type": "text", "text": "= 0.027 ∗ exp (−", "font": "Liberation Serif", "fontSize": 20, "align": "left", "baseline": "middle", "color": "black"}, "encoding": {"x": {"datum": 604}, "y": {"datum": 5.42}}},
        {"data": {"values": [{}]}, "mark": {"type": "text", "text": "(x", "font": "Liberation Serif", "fontStyle": "italic", "fontSize": 21, "align": "right", "baseline": "middle", "color": "black"}, "encoding": {"x": {"datum": 749.5}, "y": {"datum": 5.72}}},
        {"data": {"values": [{}]}, "mark": {"type": "text", "text": "− 493.9)²", "font": "Liberation Serif", "fontSize": 21, "align": "left", "baseline": "middle", "color": "black"}, "encoding": {"x": {"datum": 755}, "y": {"datum": 5.72}}},
        {"data": {"values": [{}]}, "mark": {"type": "rule", "color": "black", "strokeWidth": 1.2}, "encoding": {"x": {"datum": 737.3}, "x2": {"datum": 831.7}, "y": {"datum": 5.44}}},
        {"data": {"values": [{}]}, "mark": {"type": "text", "text": "2 ∗ (63.5)²", "font": "Liberation Serif", "fontSize": 21, "align": "center", "baseline": "middle", "color": "black"}, "encoding": {"x": {"datum": 782}, "y": {"datum": 5.186}}},
        {"data": {"values": [{}]}, "mark": {"type": "text", "text": ")", "font": "Liberation Serif", "fontSize": 23, "align": "left", "baseline": "middle", "color": "black"}, "encoding": {"x": {"datum": 833.8}, "y": {"datum": 5.44}}},
        {"data": {"values": [{}]}, "mark": {"type": "text", "text": "f(x)", "font": "Liberation Serif", "fontStyle": "italic", "fontSize": 22, "align": "left", "baseline": "middle", "color": "#ff0000"}, "encoding": {"x": {"datum": 570}, "y": {"datum": 4.052}}},
        {"data": {"values": [{}]}, "mark": {"type": "text", "text": "= 0.021 ∗ exp (−", "font": "Liberation Serif", "fontSize": 20, "align": "left", "baseline": "middle", "color": "#ff0000"}, "encoding": {"x": {"datum": 604}, "y": {"datum": 4.052}}},
        {"data": {"values": [{}]}, "mark": {"type": "text", "text": "(x", "font": "Liberation Serif", "fontStyle": "italic", "fontSize": 21, "align": "right", "baseline": "middle", "color": "#ff0000"}, "encoding": {"x": {"datum": 749.5}, "y": {"datum": 4.32}}},
        {"data": {"values": [{}]}, "mark": {"type": "text", "text": "− 508.4)²", "font": "Liberation Serif", "fontSize": 21, "align": "left", "baseline": "middle", "color": "#ff0000"}, "encoding": {"x": {"datum": 755}, "y": {"datum": 4.32}}},
        {"data": {"values": [{}]}, "mark": {"type": "rule", "color": "#ff0000", "strokeWidth": 1.2}, "encoding": {"x": {"datum": 737.3}, "x2": {"datum": 831.7}, "y": {"datum": 4.066}}},
        {"data": {"values": [{}]}, "mark": {"type": "text", "text": "2 ∗ (89.4)²", "font": "Liberation Serif", "fontSize": 21, "align": "center", "baseline": "middle", "color": "#ff0000"}, "encoding": {"x": {"datum": 782}, "y": {"datum": 3.786}}},
        {"data": {"values": [{}]}, "mark": {"type": "text", "text": ")", "font": "Liberation Serif", "fontSize": 23, "align": "left", "baseline": "middle", "color": "#ff0000"}, "encoding": {"x": {"datum": 833.8}, "y": {"datum": 4.066}}}
      ]
    }
  ],
  "spacing": 102.6,
  "bounds": "flush",
  "resolve": {"scale": {"color": "independent", "shape": "independent", "x": "independent", "y": "independent"}, "legend": {"color": "independent", "shape": "independent"}},
  "config": {
    "font": "Liberation Serif",
    "view": {"stroke": "#222222", "strokeWidth": 1.3},
    "axis": {
      "grid": false,
      "labelFont": "Liberation Serif",
      "labelFontSize": 17,
      "labelColor": "black",
      "labelFlush": false,
      "labelOverlap": false,
      "labelPadding": 9,
      "tickColor": "black",
      "tickSize": 7,
      "tickWidth": 1.5,
      "domainColor": "black",
      "domainWidth": 1.8,
      "titleColor": "black",
      "titleFontWeight": "normal"
    }
  }
}
